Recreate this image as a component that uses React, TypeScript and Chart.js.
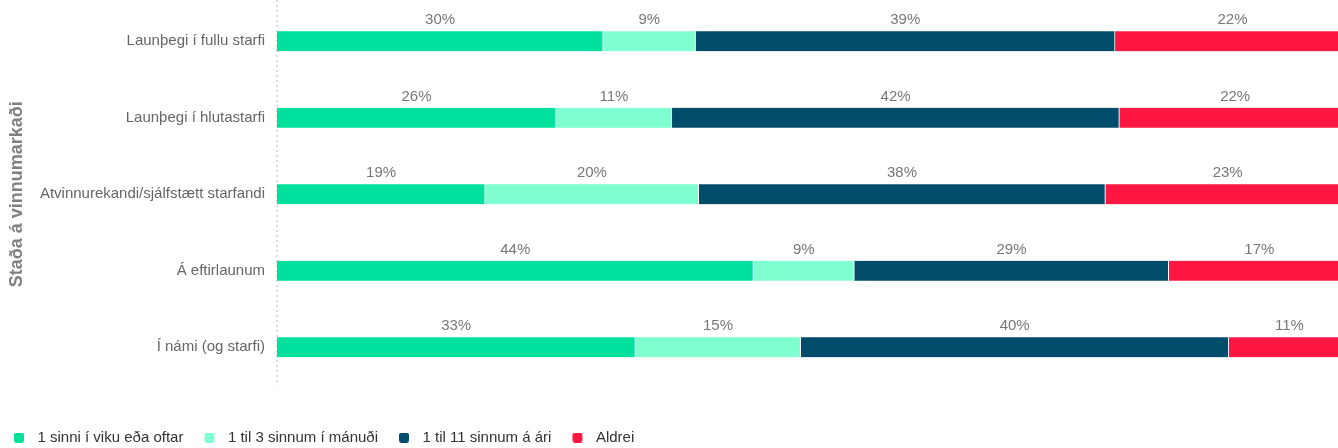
import React, { useEffect, useRef } from 'react';
import { Chart, registerables } from 'chart.js';

Chart.register(...registerables);

const categories = [
  'Launþegi í fullu starfi',
  'Launþegi í hlutastarfi',
  'Atvinnurekandi/sjálfstætt starfandi',
  'Á eftirlaunum',
  'Í námi (og starfi)',
];

const weekly = [30.4, 26.0, 19.4, 44.4, 33.4];
const monthly = [8.6, 10.8, 19.9, 9.4, 15.4];
const yearly = [39.1, 41.7, 37.9, 29.3, 39.9];
const never = [21.9, 21.6, 22.8, 16.9, 11.3];

const seriesLabels = [
  '1 sinni í viku eða oftar',
  '1 til 3 sinnum í mánuði',
  '1 til 11 sinnum á ári',
  'Aldrei',
];
const seriesColors = ['#00E19E', '#80FFD0', '#004C6B', '#FF1744'];
const axisTitle = 'Staða á vinnumarkaði';

const FONT = "'Liberation Sans', Arial, sans-serif";

function makeMarker(color: string) {
  const c = document.createElement('canvas');
  c.width = 18;
  c.height = 10;
  const g = c.getContext('2d')!;
  g.fillStyle = color;
  g.beginPath();
  (g as any).roundRect(2, 0, 10, 10, 2.5);
  g.fill();
  return c;
}

const dottedAxis = {
  id: 'dottedAxis',
  beforeDatasetsDraw(chart: any) {
    const { ctx, chartArea } = chart;
    ctx.save();
    ctx.strokeStyle = '#dcdcdc';
    ctx.lineWidth = 2;
    ctx.setLineDash([2, 3]);
    ctx.beginPath();
    ctx.moveTo(chartArea.left, 0);
    ctx.lineTo(chartArea.left, chartArea.bottom);
    ctx.stroke();
    ctx.restore();
  },
};

const segLabels = {
  id: 'segLabels',
  afterDatasetsDraw(chart: any) {
    const ctx = chart.ctx;
    ctx.save();
    ctx.font = `15px ${FONT}`;
    ctx.fillStyle = '#777';
    ctx.textAlign = 'center';
    ctx.textBaseline = 'middle';
    chart.data.datasets.forEach((ds: any, di: number) => {
      const meta = chart.getDatasetMeta(di);
      meta.data.forEach((el: any, i: number) => {
        const { x, base, y } = el.getProps(['x', 'base', 'y'], true);
        const v = ds.data[i];
        ctx.fillText(Math.round(v) + '%', (x + base) / 2, y - 21);
      });
    });
    ctx.restore();
  },
};

export default function App() {
  const ref = useRef<HTMLCanvasElement>(null);

  useEffect(() => {
    Chart.defaults.font.family = FONT;
    const series = [weekly, monthly, yearly, never];
    const markers = seriesColors.map(makeMarker);
    const chart = new Chart(ref.current!, {
      type: 'bar',
      data: {
        labels: categories,
        datasets: series.map((d, i) => ({
          label: seriesLabels[i],
          data: d,
          backgroundColor: seriesColors[i],
          borderColor: '#ffffff',
          borderWidth: { top: 0, bottom: 0, left: 0, right: 1 },
          borderSkipped: false,
          barThickness: 20,
        })),
      },
      options: {
        indexAxis: 'y',
        responsive: false,
        animation: false,
        devicePixelRatio: 1,
        layout: { padding: { top: 3, left: 0, right: 0, bottom: 0 } },
        scales: {
          x: {
            stacked: true,
            min: 0,
            max: 100,
            grid: { display: false, drawTicks: false },
            border: { display: false },
            ticks: { display: false },
            afterFit: (s: any) => {
              s.height = 25.5;
              s.paddingLeft = 0;
              s.paddingRight = 0;
            },
          },
          y: {
            stacked: true,
            grid: { display: false, drawTicks: false },
            border: { display: false },
            ticks: { padding: 12, color: '#666', font: { size: 15 } },
            title: {
              display: true,
              text: axisTitle,
              color: '#808080',
              font: { size: 18, weight: 'bold' },
              padding: { top: 13, bottom: 0 },
            },
            afterFit: (s: any) => {
              s.width = 284;
              s.paddingTop = 0;
              s.paddingBottom = 0;
            },
          },
        },
        plugins: {
          tooltip: { enabled: false },
          legend: {
            position: 'bottom',
            align: 'start',
            labels: {
              usePointStyle: true,
              pointStyleWidth: 18,
              padding: 19,
              color: '#333',
              font: { size: 15 },
              generateLabels: (c: any) =>
                c.data.datasets.map((ds: any, i: number) => ({
                  text: ds.label,
                  fillStyle: ds.backgroundColor,
                  strokeStyle: 'transparent',
                  lineWidth: 0,
                  pointStyle: markers[i],
                  hidden: !c.isDatasetVisible(i),
                  datasetIndex: i,
                  fontColor: '#333',
                })),
            },
          },
        },
      } as any,
      plugins: [dottedAxis, segLabels],
    });
    return () => chart.destroy();
  }, []);

  return (
    <div
      style={{
        position: 'fixed',
        left: 0,
        top: 0,
        width: 1338,
        height: 448,
        overflow: 'hidden',
        background: '#fff',
      }}
    >
      <canvas
        ref={ref}
        width={1357}
        height={455}
        style={{ position: 'absolute', left: -7, top: 0, width: 1357, height: 455 }}
      />
    </div>
  );
}
